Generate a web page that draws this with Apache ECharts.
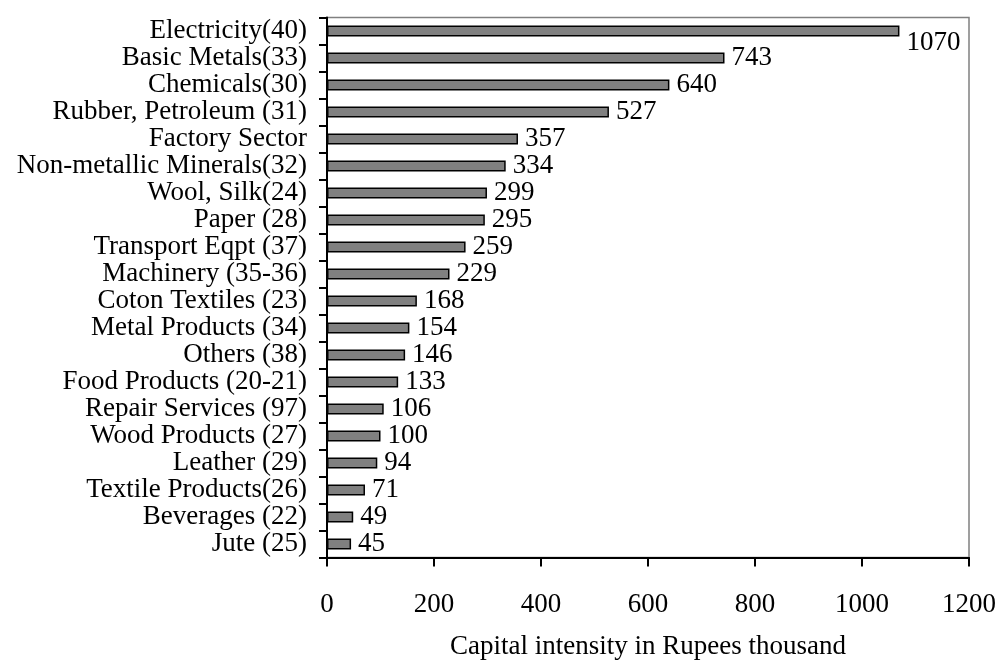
<!DOCTYPE html>
<html>
<head>
<meta charset="utf-8">
<script src="https://cdn.jsdelivr.net/npm/echarts@6/dist/echarts.min.js"></script>
<style>html,body{margin:0;padding:0;background:#fff}#c{width:1000px;height:660px}</style>
</head>
<body>
<div id="c"></div>
<script>
var categories = ["Electricity(40)","Basic Metals(33)","Chemicals(30)","Rubber, Petroleum (31)","Factory Sector","Non-metallic Minerals(32)","Wool, Silk(24)","Paper (28)","Transport Eqpt (37)","Machinery (35-36)","Coton Textiles (23)","Metal Products (34)","Others (38)","Food Products (20-21)","Repair Services (97)","Wood Products (27)","Leather (29)","Textile Products(26)","Beverages (22)","Jute (25)"];
var values = [1070,743,640,527,357,334,299,295,259,229,168,154,146,133,106,100,94,71,49,45];
var xTicks = [0,200,400,600,800,1000,1200];

var FONT = "'Liberation Serif','Times New Roman',serif";
var FS = 27;
var chart = echarts.init(document.getElementById('c'), null, {renderer:'canvas'});
var data = values.map(function(v,i){
  var d = {value:v};
  if (i === 0) d.label = {offset:[0,12]};
  return d;
});
chart.setOption({
  animation:false,
  grid:{left:327, top:17.5, right:31, bottom:102.5, containLabel:false, outerBoundsMode:'none', show:true, borderColor:'#808080', borderWidth:1.5, backgroundColor:'transparent'},
  xAxis:{
    type:'value', min:0, max:1200, interval:200,
    name:'Capital intensity in Rupees thousand', nameLocation:'middle', nameGap:76,
    nameTextStyle:{fontFamily:FONT, fontSize:FS, color:'#000'},
    axisLine:{show:true, lineStyle:{color:'#000', width:2}},
    axisTick:{show:true, length:9, lineStyle:{color:'#000', width:2}},
    axisLabel:{margin:34, fontFamily:FONT, fontSize:FS, color:'#000', formatter:function(v){return xTicks.indexOf(v)>=0?String(v):'';}},
    splitLine:{show:false}
  },
  yAxis:{
    type:'category', data:categories, inverse:true,
    axisLine:{show:true, lineStyle:{color:'#000', width:2}},
    axisTick:{show:true, length:8, lineStyle:{color:'#000', width:2}},
    axisLabel:{margin:20, fontFamily:FONT, fontSize:FS, color:'#000', interval:0, padding:[4,0,0,0]},
    splitLine:{show:false}
  },
  series:[{
    type:'bar', data:data, barWidth:11,
    itemStyle:{color:'#808080', borderColor:'#000', borderWidth:1.5},
    label:{show:true, position:'right', distance:7, fontFamily:FONT, fontSize:FS, color:'#000'}
  }]
});
</script>
</body>
</html>
